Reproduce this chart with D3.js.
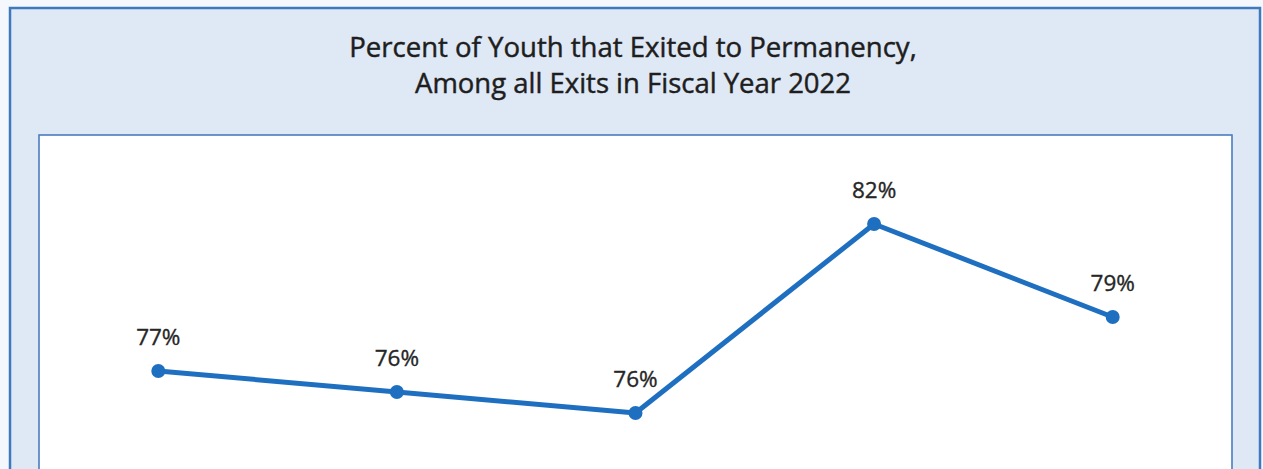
<!DOCTYPE html>
<html>
<head>
<meta charset="utf-8">
<script src="https://cdn.jsdelivr.net/npm/d3@7"></script>
<style>
  html, body { margin: 0; padding: 0; background: #f4f8fc; overflow: hidden; }
  svg { display: block; }
</style>
</head>
<body>
<svg id="chart" width="1263" height="469"></svg>
<script>
// Exits to permanency, FY2022 (percent of all exits per group)
const categories = ["Group A", "Group B", "Group C", "Group D", "Group E"];
const permanencyRates = [77.0, 76.3, 75.6, 81.9, 78.8];
const titleLines = [
  "Percent of Youth that Exited to Permanency,",
  "Among all Exits in Fiscal Year 2022"
];

const W = 1263, H = 469;
const svg = d3.select("#chart");
const FONT = "'Open Sans', Lato, 'DejaVu Sans', sans-serif";

// outer chart frame
const frame = { x: 10, y: 8, w: 1250, h: 520 };
svg.append("rect")
  .attr("x", frame.x).attr("y", frame.y)
  .attr("width", frame.w).attr("height", frame.h)
  .attr("fill", "#dfe8f5")
  .attr("stroke", "#3f78bd").attr("stroke-width", 2.5);

// plot panel
const plot = { x: 39, y: 135, w: 1193, h: 420 };
svg.append("rect")
  .attr("x", plot.x).attr("y", plot.y)
  .attr("width", plot.w).attr("height", plot.h)
  .attr("fill", "#ffffff")
  .attr("stroke", "#4a7cbf").attr("stroke-width", 1.6);

// title, each line fitted to its set width
const titleSpecs = [{ y: 57, width: 568 }, { y: 93, width: 436 }];
titleLines.forEach((line, i) => {
  const t = svg.append("text")
    .attr("x", 633).attr("y", titleSpecs[i].y)
    .attr("text-anchor", "middle")
    .attr("font-family", FONT)
    .attr("font-size", 100)
    .attr("fill", "#1e1e1e")
    .attr("stroke", "#1e1e1e")
    .attr("stroke-width", 0.45)
    .text(line);
  const w = t.node().getComputedTextLength();
  t.attr("font-size", 100 * titleSpecs[i].width / w);
});

// scales
const x = d3.scalePoint()
  .domain(categories)
  .range([plot.x, plot.x + plot.w])
  .padding(0.5);

const y = d3.scaleLinear()
  .domain([70, 84])
  .range([581, 161]);

const data = categories.map((c, i) => ({ cat: c, value: permanencyRates[i] }));

const line = d3.line()
  .x(d => x(d.cat))
  .y(d => y(d.value));

svg.append("path")
  .datum(data)
  .attr("fill", "none")
  .attr("stroke", "#1f6fc1")
  .attr("stroke-width", 5)
  .attr("stroke-linejoin", "round")
  .attr("d", line);

svg.selectAll("circle.pt")
  .data(data)
  .join("circle")
  .attr("class", "pt")
  .attr("cx", d => x(d.cat))
  .attr("cy", d => y(d.value))
  .attr("r", 7)
  .attr("fill", "#1f6fc1");

const fmt = v => Math.round(v) + "%";
svg.selectAll("text.lbl")
  .data(data)
  .join("text")
  .attr("class", "lbl")
  .attr("x", d => x(d.cat))
  .attr("y", d => y(d.value) - 26)
  .attr("text-anchor", "middle")
  .attr("font-family", FONT)
  .attr("font-size", 22.5)
  .attr("fill", "#262626")
  .attr("stroke", "#262626")
  .attr("stroke-width", 0.35)
  .text(d => fmt(d.value));
</script>
</body>
</html>
